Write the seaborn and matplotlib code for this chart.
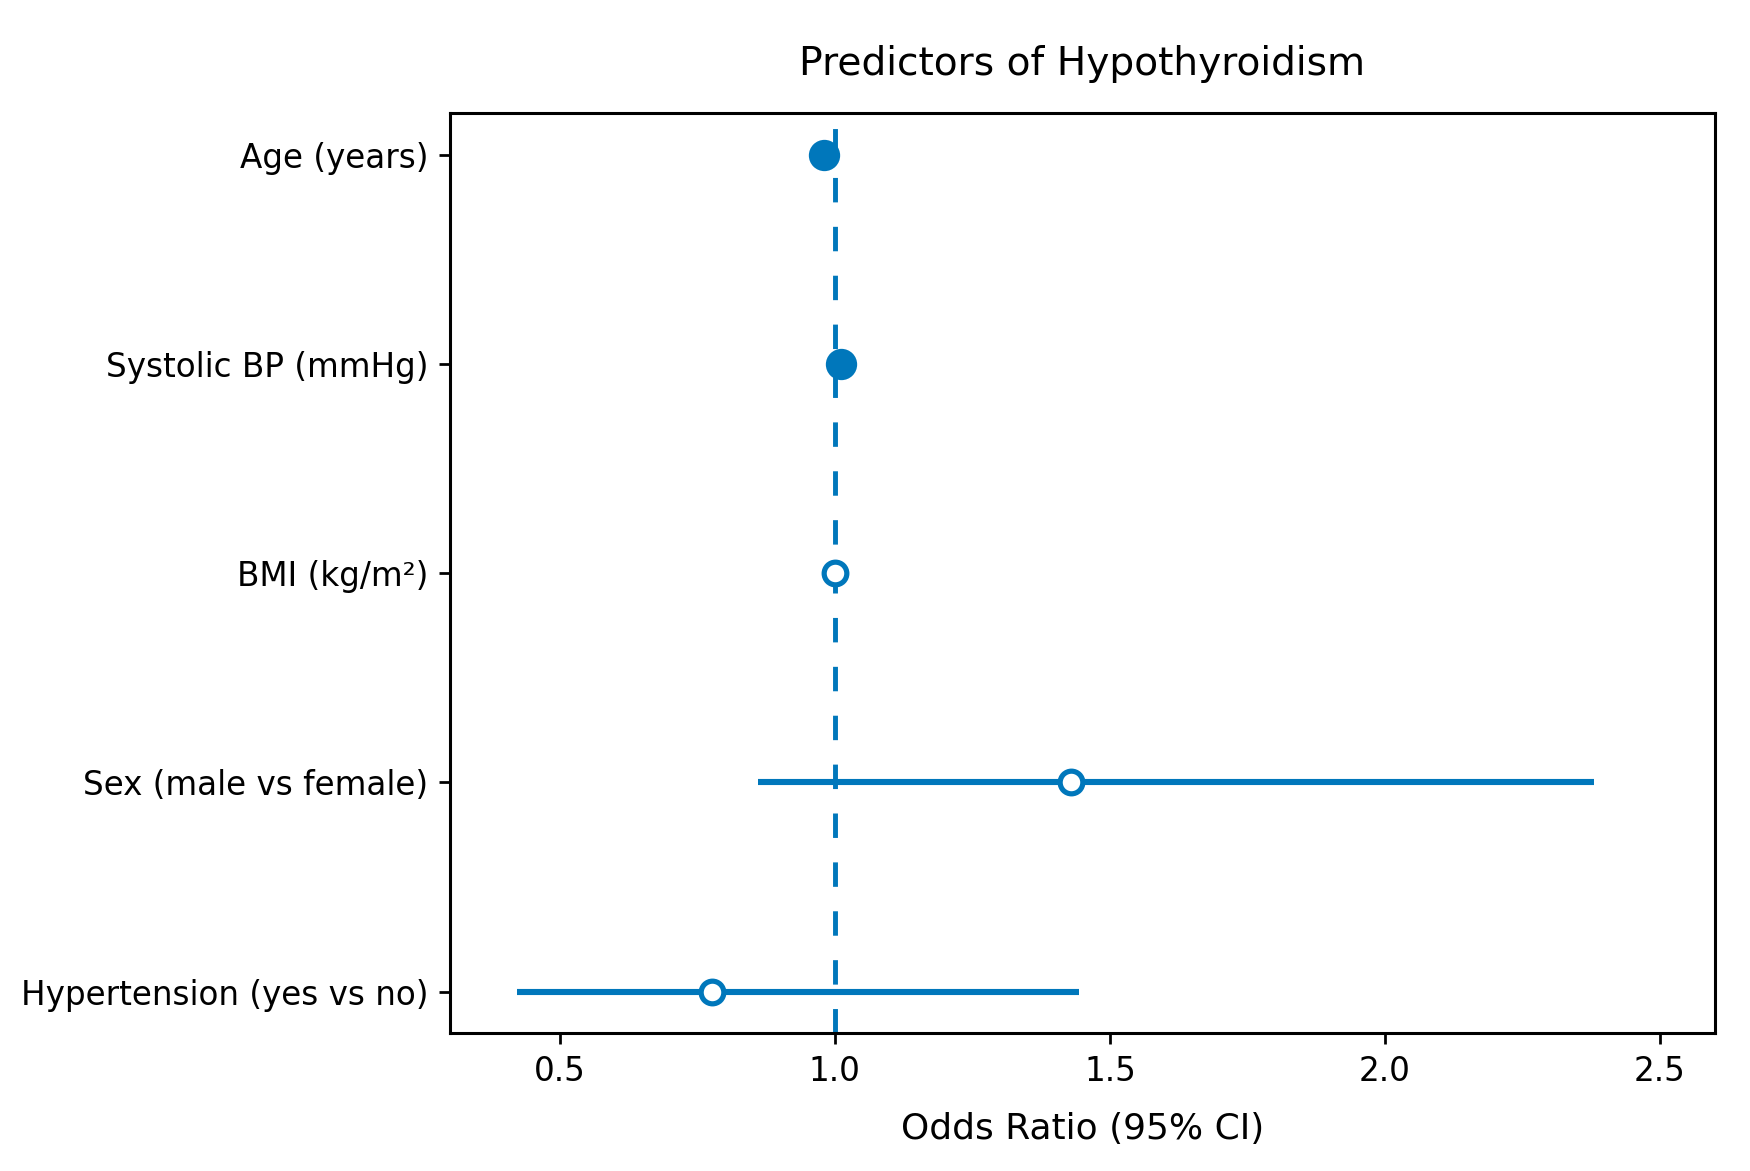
import numpy as np
import pandas as pd
import matplotlib
matplotlib.use("Agg")
import matplotlib.pyplot as plt
import seaborn as sns

# forest plot data
predictors = ["Age (years)", "Systolic BP (mmHg)", "BMI (kg/m\u00b2)",
              "Sex (male vs female)", "Hypertension (yes vs no)"]
odds_ratio = [0.98, 1.012, 1.00, 1.43, 0.777]
ci_low = [0.97, 1.00, 0.98, 0.86, 0.423]
ci_high = [0.99, 1.02, 1.02, 2.38, 1.443]
significant = [True, True, False, False, False]

df = pd.DataFrame({"predictor": predictors, "OR": odds_ratio,
                   "lo": ci_low, "hi": ci_high, "sig": significant})
df["row"] = np.arange(len(df))

sns.set_style("ticks")
plt.rcParams["font.family"] = ["DejaVu Sans"]
plt.rcParams.update({"text.color": "black", "axes.labelcolor": "black",
                     "xtick.color": "black", "ytick.color": "black",
                     "axes.edgecolor": "black"})
blue = "#0077BB"

fig, ax = plt.subplots(figsize=(1750 / 220, 1171 / 220), dpi=220)
fig.subplots_adjust(left=0.257, right=0.98, top=0.9035, bottom=0.1175)

ax.hlines(df["row"], df["lo"], df["hi"], color=blue, lw=2.0, zorder=2)
ax.axvline(1.0, color=blue, lw=1.6, linestyle=(0, (5, 5)), zorder=2)

sig = df[df["sig"]]
nonsig = df[~df["sig"]]
sns.scatterplot(data=sig, x="OR", y="row", ax=ax, s=105, color=blue,
                edgecolor=blue, linewidth=0, zorder=3, legend=False)
sns.scatterplot(data=nonsig, x="OR", y="row", ax=ax, s=55, facecolor="white",
                edgecolor=blue, linewidth=1.7, zorder=3, legend=False)

ax.set_yticks(df["row"])
ax.set_yticklabels(df["predictor"])
ax.set_ylim(len(df) - 1 + 0.2, -0.2)
ax.set_xlim(0.3, 2.6)
ax.set_xticks([0.5, 1.0, 1.5, 2.0, 2.5])
ax.set_xlabel("Odds Ratio (95% CI)", fontsize=11.8, labelpad=8)
ax.set_ylabel("")
ax.set_title("Predictors of Hypothyroidism", fontsize=12.8, pad=12.5)
ax.tick_params(labelsize=10.7, length=3.5, width=0.9)
for sp in ax.spines.values():
    sp.set_visible(True)
    sp.set_linewidth(1.0)

fig.savefig("out.png", dpi=220)
